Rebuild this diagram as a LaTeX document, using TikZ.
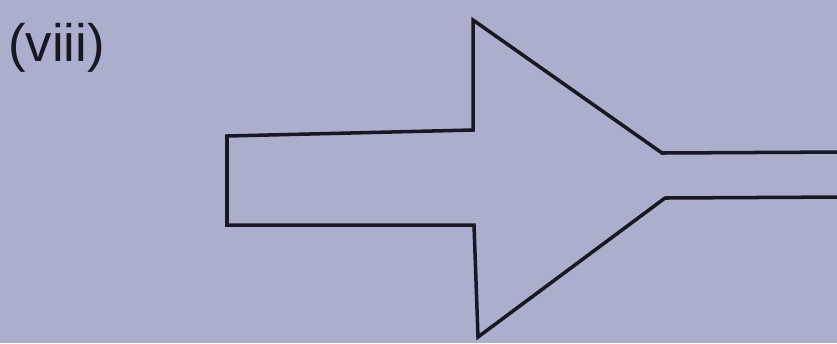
\documentclass[tikz,border=0pt]{standalone}
\usepackage{fontspec}
\setmainfont{Liberation Sans}
\usepackage{xcolor}
\definecolor{paper}{RGB}{172,174,206}
\definecolor{ink}{RGB}{24,24,36}

\begin{document}
\begin{tikzpicture}[x=0.02cm,y=-0.02cm,
    outline/.style={draw=ink,line width=2pt,line join=miter}]
    \fill[paper] (0,0) rectangle (837,343);
    \useasboundingbox (0,0) rectangle (837,343);
    \clip (0,0) rectangle (837,343);

    \node[anchor=west,text=ink,font=\fontsize{30}{34}\selectfont,inner sep=0pt]
        (label) at (8,48) {(viii)};

    % the arrow outline, left end to the far right edge
    \draw[outline]
        (845,152) -- (662,153) -- (473,20) -- (473,130)
        -- (227,136) -- (227,225) -- (474,225)
        -- (478,337) -- (665,198) -- (845,197);
\end{tikzpicture}
\end{document}
